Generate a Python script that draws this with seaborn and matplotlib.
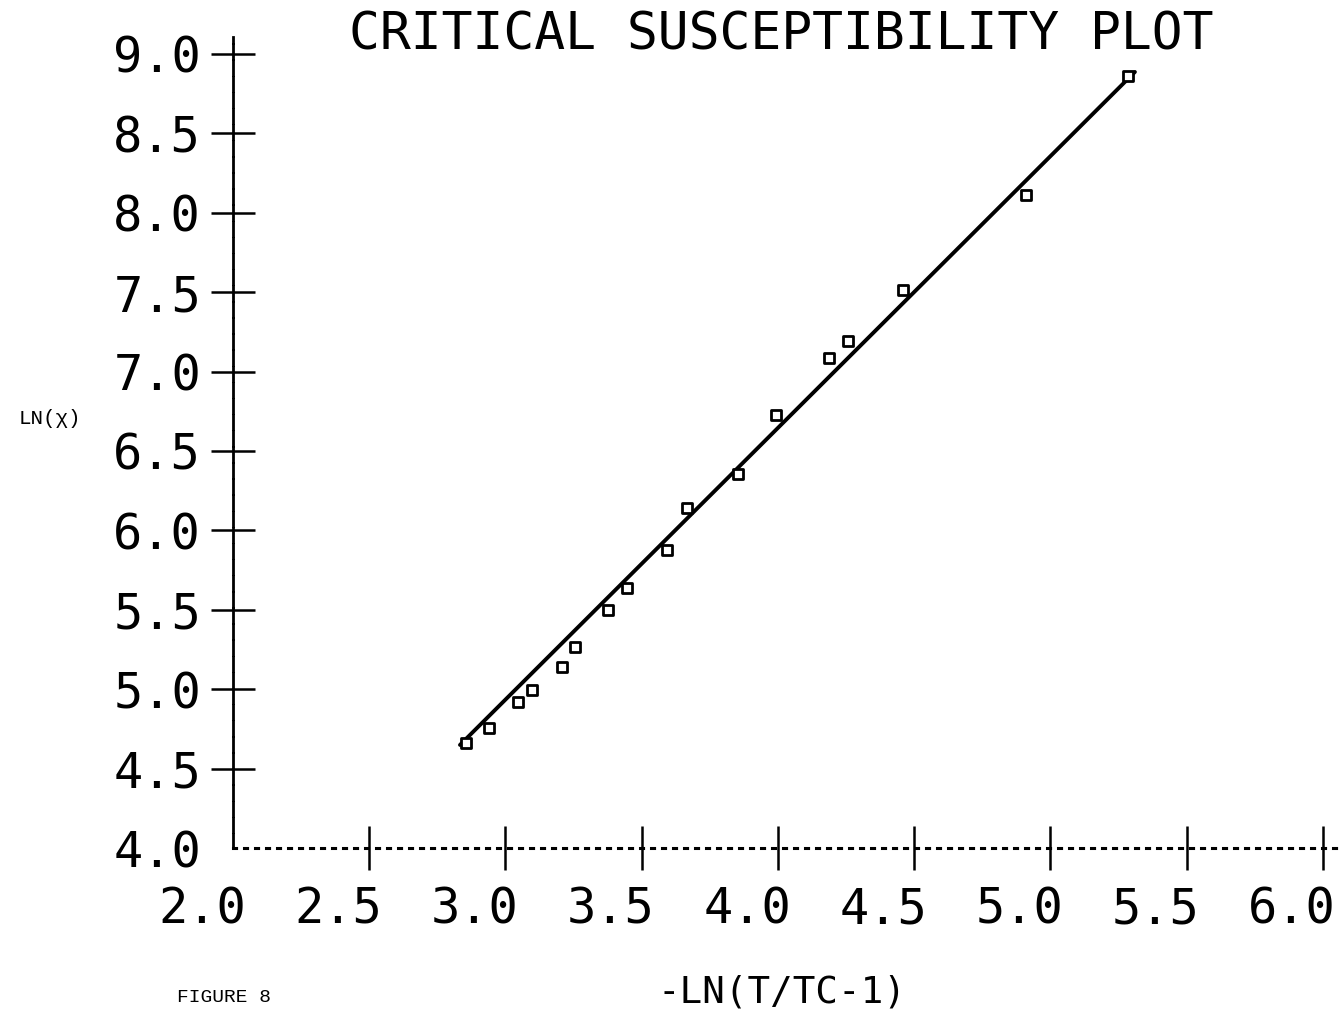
import matplotlib
matplotlib.use("Agg")
import matplotlib.pyplot as plt
import matplotlib.transforms as mtransforms
import pandas as pd
import seaborn as sns

# Measured points: -ln(T/Tc - 1) against ln(chi)
neg_ln_reduced_t = [2.855, 2.939, 3.046, 3.097, 3.207, 3.255, 3.376, 3.446, 3.593,
                    3.666, 3.853, 3.993, 4.187, 4.257, 4.459, 4.910, 5.284]
ln_chi = [4.661, 4.756, 4.919, 4.995, 5.140, 5.266, 5.499, 5.637, 5.877,
          6.141, 6.355, 6.727, 7.086, 7.193, 7.514, 8.112, 8.861]

# Straight-line fit through the points (end points)
fit_x = [2.833, 5.310]
fit_y = [4.649, 8.887]

x_ticks = [2.0, 2.5, 3.0, 3.5, 4.0, 4.5, 5.0, 5.5, 6.0]
x_tick_labels = ["2.0", "2.5", "3.0", "3.5", "4.0", "4.5", "5.0", "5.5", "6.0"]
y_ticks = [4.0, 4.5, 5.0, 5.5, 6.0, 6.5, 7.0, 7.5, 8.0, 8.5, 9.0]
y_tick_labels = ["4.0", "4.5", "5.0", "5.5", "6.0", "6.5", "7.0", "7.5", "8.0", "8.5", "9.0"]

title_text = "CRITICAL SUSCEPTIBILITY PLOT"
x_label = "-LN(T/TC-1)"
y_label = "LN(\u03c7)"
figure_tag = "FIGURE 8"

sns.set_style("white")
plt.rcParams["font.family"] = ["DejaVu Sans Mono"]
plt.rcParams["text.color"] = "black"
plt.rcParams["axes.labelcolor"] = "black"

W, H = 1342, 1022
fig = plt.figure(figsize=(W / 100, H / 100), dpi=100)
ax = fig.add_axes([233 / W, 1 - 848 / H, 1109 / W, (848 - 37) / H])

points = pd.DataFrame({"x": neg_ln_reduced_t, "y": ln_chi})
fit = pd.DataFrame({"x": fit_x, "y": fit_y})

sns.lineplot(data=fit, x="x", y="y", ax=ax, color="black", linewidth=2.8,
             estimator=None, sort=False)
sns.scatterplot(data=points, x="x", y="y", ax=ax, marker="s", s=50,
                color="white", edgecolor="black", linewidth=2.0, zorder=3)

ax.set_xlim(2.0, 6.07)
ax.set_ylim(4.0, 9.107)
ax.set_xticks(x_ticks, x_tick_labels)
ax.set_yticks(y_ticks, y_tick_labels)

for side in ("top", "right"):
    ax.spines[side].set_visible(False)
ax.spines["left"].set_linewidth(2.0)
ax.spines["left"].set_color("black")
ax.spines["left"].set_linestyle((0, (5, 0.8)))
ax.spines["bottom"].set_linewidth(2.2)
ax.spines["bottom"].set_color("black")
ax.spines["bottom"].set_linestyle((0, (1, 2.6)))

ax.tick_params(bottom=True, left=True, direction="inout", length=32, width=1.8,
               color="black", labelsize=35, labelcolor="black")
ax.tick_params(axis="x", pad=11)
ax.tick_params(axis="y", pad=7)

# no tick marks at the corner where the axes meet
ax.xaxis.get_major_ticks()[0].tick1line.set_visible(False)
ax.yaxis.get_major_ticks()[0].tick1line.set_visible(False)

# x tick labels end just right of their tick
shift = mtransforms.ScaledTranslation(13 / 100, 0, fig.dpi_scale_trans)
for lbl in ax.get_xticklabels():
    lbl.set_ha("right")
    lbl.set_transform(lbl.get_transform() + shift)

ax.set_xlabel(x_label, fontsize=27, color="black")
ax.xaxis.set_label_coords((782 - 233) / 1109, (848 - 992) / 811)
ax.xaxis.label.set_va("center")

ax.set_ylabel(y_label, rotation=0, fontsize=15, color="black",
              family=["Liberation Mono", "DejaVu Sans Mono"])
ax.yaxis.set_label_coords((50 - 233) / 1109, (848 - 418) / 811)
ax.yaxis.label.set_ha("center")
ax.yaxis.label.set_va("center")

fig.text(781 / W, 1 - 36 / H, title_text, ha="center", va="center", fontsize=37,
         color="black")
fig.text(224 / W, 1 - 997 / H, figure_tag, ha="center", va="center", fontsize=14,
         color="black", family=["Liberation Mono", "DejaVu Sans Mono"])

fig.savefig("out.png", dpi=100, facecolor="white")
